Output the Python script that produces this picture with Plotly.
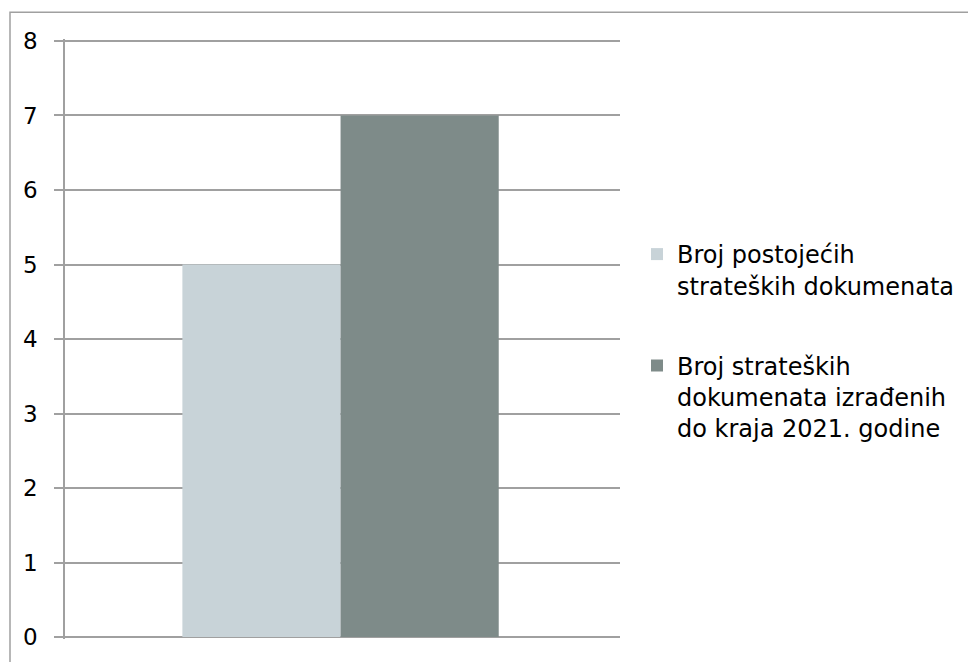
import plotly.graph_objects as go

categories = [""]
series_names = [
    "Broj postojećih<br>strateških dokumenata",
    "Broj strateških<br>dokumenata izrađenih<br>do kraja 2021. godine",
]
series_values = [[5], [7]]
series_colors = ["#C8D3D8", "#7E8B89"]
y_ticks = [0, 1, 2, 3, 4, 5, 6, 7, 8]

FONT = "DejaVu Sans"
GRID = "#A0A0A0"

fig = go.Figure()
for i, (name, vals, col) in enumerate(zip(series_names, series_values, series_colors)):
    fig.add_trace(go.Bar(
        x=categories, y=vals, name=name, marker=dict(color=col, line=dict(width=0)),
        legendgroup=f"g{i}",
    ))

L, R, T, B = 65, 348, 39, 20
W, H = 968, 662
pw, ph = W - L - R, H - T - B
E = 0.0267  # tiny range padding so the 0 and 8 gridlines are drawn

fig.update_layout(
    width=W, height=H,
    margin=dict(l=L, r=R, t=T, b=B, pad=0),
    paper_bgcolor="white", plot_bgcolor="white",
    barmode="group", bargap=0.43, bargroupgap=0,
    font=dict(family=FONT, size=24, color="#000000"),
    showlegend=True,
    legend=dict(
        xref="container", yref="container",
        x=637 / W, xanchor="left",
        y=1 - 232 / H, yanchor="top",
        valign="top", traceorder="grouped", tracegroupgap=46,
        font=dict(family=FONT, size=24, color="#000000"),
        bgcolor="rgba(0,0,0,0)", itemclick=False,
    ),
    xaxis=dict(showticklabels=False, showgrid=False, zeroline=False, showline=False,
               ticks="", range=[-0.4965, 0.5035]),
    yaxis=dict(range=[-E, 8 + E], tickvals=y_ticks, ticktext=[str(v) for v in y_ticks],
               showgrid=True, gridcolor=GRID, gridwidth=1.5,
               zeroline=False, showline=True, linecolor=GRID, linewidth=1.5,
               ticks="outside", ticklen=9, tickcolor=GRID, tickwidth=1.5,
               ticklabelstandoff=12,
               tickfont=dict(family=FONT, size=23, color="#000000")),
)

# outer chart-area border (extends past the right/bottom edges of the picture)
fig.add_shape(type="rect", xref="paper", yref="paper",
              x0=(10 - L) / pw, x1=(W + 20 - L) / pw,
              y0=(H - B - (H + 20)) / ph, y1=(H - B - 12) / ph,
              line=dict(color=GRID, width=1.5), fillcolor="rgba(0,0,0,0)", layer="below")

fig.write_html("out.html", config={"displayModeBar": False},
               post_script="document.body.style.margin='0px';")
